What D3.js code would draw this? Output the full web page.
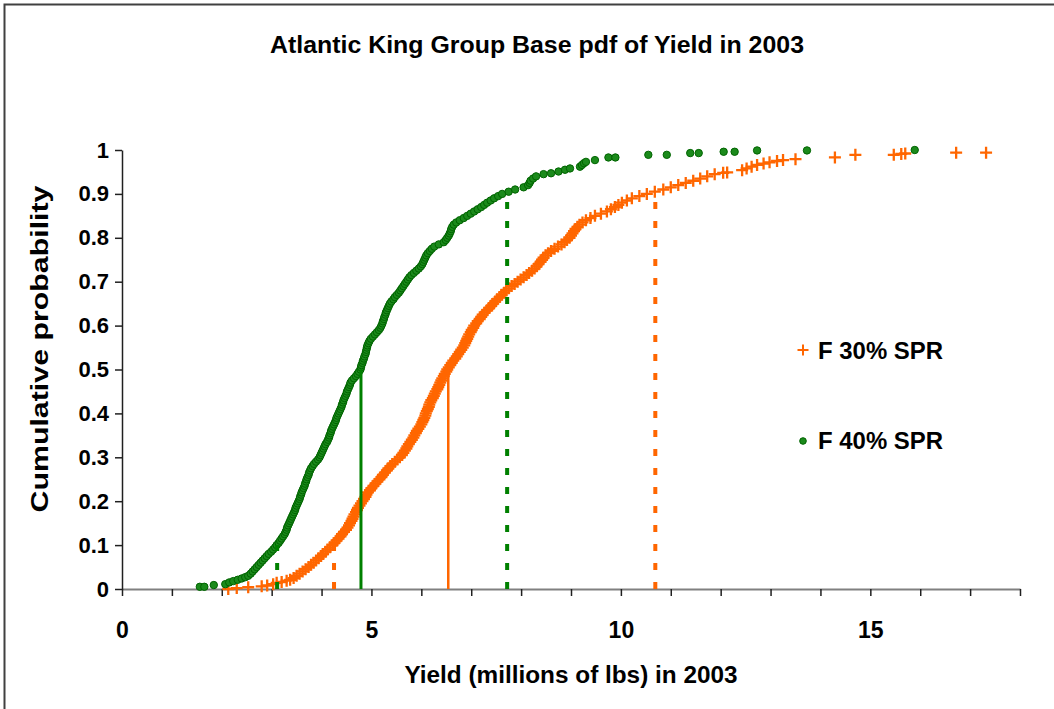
<!DOCTYPE html>
<html>
<head>
<meta charset="utf-8">
<script src="https://cdn.jsdelivr.net/npm/d3@7"></script>
<style>
  body { margin: 0; background: #fff; }
  text { font-family: "Liberation Sans", Arial, sans-serif; font-weight: bold; fill: #000; }
</style>
</head>
<body>
<svg id="chart" width="1054" height="709"></svg>
<script>
// [yield (millions of lbs), cumulative probability]
const f30Points = [
  [2.13, 0.000], [2.30, 0.002], [2.53, 0.004], [2.80, 0.006], [2.91, 0.008], [3.03, 0.011],
  [3.10, 0.014], [3.20, 0.016], [3.30, 0.019], [3.37, 0.021], [3.44, 0.025],
  [3.50, 0.030], [3.56, 0.035], [3.62, 0.040], [3.68, 0.045], [3.74, 0.050], [3.79, 0.055],
  [3.84, 0.060], [3.89, 0.065], [3.94, 0.070], [3.99, 0.075], [4.03, 0.080], [4.08, 0.085],
  [4.12, 0.090], [4.17, 0.095], [4.22, 0.100], [4.26, 0.105], [4.30, 0.110], [4.34, 0.115],
  [4.38, 0.120], [4.41, 0.125], [4.45, 0.130], [4.49, 0.135], [4.52, 0.140], [4.55, 0.145],
  [4.57, 0.150], [4.60, 0.155], [4.62, 0.160], [4.64, 0.165], [4.66, 0.170], [4.69, 0.175],
  [4.71, 0.180], [4.73, 0.185], [4.76, 0.190], [4.79, 0.195], [4.82, 0.200], [4.85, 0.205],
  [4.88, 0.210], [4.90, 0.215], [4.93, 0.220], [4.97, 0.225], [5.00, 0.230], [5.04, 0.235],
  [5.08, 0.240], [5.12, 0.245], [5.16, 0.250], [5.20, 0.255], [5.23, 0.260], [5.27, 0.265],
  [5.31, 0.270], [5.34, 0.275], [5.38, 0.280], [5.42, 0.285], [5.47, 0.290], [5.52, 0.295],
  [5.57, 0.300], [5.61, 0.305], [5.64, 0.310], [5.67, 0.315], [5.70, 0.320], [5.72, 0.325],
  [5.75, 0.330], [5.78, 0.335], [5.81, 0.340], [5.84, 0.345], [5.86, 0.350], [5.89, 0.355],
  [5.91, 0.360], [5.94, 0.365], [5.97, 0.370], [6.00, 0.375], [6.02, 0.380], [6.04, 0.385],
  [6.06, 0.390], [6.08, 0.395], [6.09, 0.400], [6.11, 0.405], [6.13, 0.410], [6.15, 0.415],
  [6.16, 0.420], [6.18, 0.425], [6.20, 0.430], [6.23, 0.435], [6.25, 0.440], [6.27, 0.445],
  [6.29, 0.450], [6.32, 0.455], [6.34, 0.460], [6.36, 0.465], [6.38, 0.470], [6.40, 0.475],
  [6.42, 0.480], [6.45, 0.485], [6.47, 0.490], [6.50, 0.495], [6.52, 0.500], [6.55, 0.505],
  [6.58, 0.510], [6.61, 0.515], [6.64, 0.520], [6.68, 0.525], [6.71, 0.530], [6.74, 0.535],
  [6.77, 0.540], [6.80, 0.545], [6.83, 0.550], [6.86, 0.555], [6.88, 0.560], [6.90, 0.565],
  [6.92, 0.570], [6.94, 0.575], [6.96, 0.580], [6.99, 0.585], [7.01, 0.590], [7.04, 0.595],
  [7.06, 0.600], [7.10, 0.605], [7.13, 0.610], [7.17, 0.615], [7.20, 0.620], [7.23, 0.625],
  [7.27, 0.630], [7.32, 0.635], [7.36, 0.640], [7.40, 0.645], [7.44, 0.650], [7.48, 0.655],
  [7.52, 0.660], [7.57, 0.665], [7.61, 0.670], [7.66, 0.675], [7.70, 0.680], [7.75, 0.685],
  [7.81, 0.690], [7.87, 0.695], [7.93, 0.700], [7.99, 0.705], [8.05, 0.710], [8.11, 0.715],
  [8.16, 0.720], [8.22, 0.725], [8.27, 0.730], [8.31, 0.735], [8.35, 0.740], [8.39, 0.745],
  [8.42, 0.750], [8.45, 0.755], [8.49, 0.760], [8.54, 0.765], [8.60, 0.770], [8.67, 0.775],
  [8.74, 0.780], [8.81, 0.785], [8.87, 0.790], [8.92, 0.795], [8.97, 0.800], [9.00, 0.805],
  [9.03, 0.810], [9.06, 0.815], [9.09, 0.820], [9.13, 0.825], [9.17, 0.830], [9.23, 0.835],
  [9.30, 0.840], [9.39, 0.845], [9.48, 0.850], [9.60, 0.855], [9.72, 0.860], [9.80, 0.865],
  [9.88, 0.870], [9.95, 0.875], [10.02, 0.880], [10.12, 0.885], [10.22, 0.890], [10.37, 0.895],
  [10.52, 0.900], [10.68, 0.905], [10.85, 0.910], [11.00, 0.915], [11.15, 0.920], [11.30, 0.925],
  [11.45, 0.930], [11.59, 0.935], [11.73, 0.940], [11.88, 0.945], [12.05, 0.948], [12.13, 0.949],
  [12.43, 0.954], [12.52, 0.958], [12.62, 0.962], [12.73, 0.966], [12.86, 0.969], [12.98, 0.972],
  [13.13, 0.975], [13.25, 0.977], [13.50, 0.979], [14.29, 0.983], [14.70, 0.989], [15.47, 0.989],
  [15.62, 0.991], [15.70, 0.992], [16.72, 0.994], [17.32, 0.994]
];

const f40Points = [
  [1.56, 0.005], [1.65, 0.005], [1.84, 0.009], [2.07, 0.011], [2.15, 0.015], [2.23, 0.018],
  [2.32, 0.021], [2.40, 0.024], [2.47, 0.027],
  [2.53, 0.030], [2.58, 0.035], [2.62, 0.040], [2.66, 0.045], [2.70, 0.050], [2.74, 0.055],
  [2.78, 0.060], [2.82, 0.065], [2.86, 0.070], [2.90, 0.075], [2.94, 0.080], [2.99, 0.085],
  [3.03, 0.090], [3.07, 0.095], [3.10, 0.100], [3.14, 0.105], [3.17, 0.110], [3.20, 0.115],
  [3.23, 0.120], [3.26, 0.125], [3.28, 0.130], [3.30, 0.135], [3.31, 0.140], [3.33, 0.145],
  [3.35, 0.150], [3.37, 0.155], [3.39, 0.160], [3.41, 0.165], [3.43, 0.170], [3.45, 0.175],
  [3.47, 0.180], [3.48, 0.185], [3.50, 0.190], [3.52, 0.195], [3.54, 0.200], [3.56, 0.205],
  [3.57, 0.210], [3.59, 0.215], [3.60, 0.220], [3.62, 0.225], [3.64, 0.230], [3.66, 0.235],
  [3.67, 0.240], [3.69, 0.245], [3.70, 0.250], [3.72, 0.255], [3.74, 0.260], [3.75, 0.265],
  [3.77, 0.270], [3.79, 0.275], [3.82, 0.280], [3.85, 0.285], [3.89, 0.290], [3.93, 0.295],
  [3.96, 0.300], [3.98, 0.305], [4.00, 0.310], [4.02, 0.315], [4.04, 0.320], [4.06, 0.325],
  [4.08, 0.330], [4.11, 0.335], [4.13, 0.340], [4.15, 0.345], [4.16, 0.350], [4.18, 0.355],
  [4.19, 0.360], [4.21, 0.365], [4.23, 0.370], [4.25, 0.375], [4.27, 0.380], [4.29, 0.385],
  [4.30, 0.390], [4.32, 0.395], [4.34, 0.400], [4.36, 0.405], [4.38, 0.410], [4.40, 0.415],
  [4.41, 0.420], [4.43, 0.425], [4.44, 0.430], [4.46, 0.435], [4.48, 0.440], [4.50, 0.445],
  [4.51, 0.450], [4.53, 0.455], [4.55, 0.460], [4.57, 0.465], [4.58, 0.470], [4.61, 0.475],
  [4.65, 0.480], [4.69, 0.485], [4.72, 0.490], [4.75, 0.495], [4.78, 0.500], [4.79, 0.505],
  [4.80, 0.510], [4.82, 0.515], [4.83, 0.520], [4.85, 0.525], [4.86, 0.530], [4.88, 0.535],
  [4.89, 0.540], [4.90, 0.545], [4.91, 0.550], [4.92, 0.555], [4.94, 0.560], [4.96, 0.565],
  [4.99, 0.570], [5.03, 0.575], [5.07, 0.580], [5.11, 0.585], [5.15, 0.590], [5.18, 0.595],
  [5.20, 0.600], [5.22, 0.605], [5.23, 0.610], [5.25, 0.615], [5.26, 0.620], [5.28, 0.625],
  [5.29, 0.630], [5.31, 0.635], [5.33, 0.640], [5.35, 0.645], [5.37, 0.650], [5.40, 0.655],
  [5.44, 0.660], [5.47, 0.665], [5.51, 0.670], [5.55, 0.675], [5.58, 0.680], [5.61, 0.685],
  [5.64, 0.690], [5.67, 0.695], [5.70, 0.700], [5.73, 0.705], [5.76, 0.710], [5.80, 0.715],
  [5.85, 0.720], [5.90, 0.725], [5.95, 0.730], [5.99, 0.735], [6.02, 0.740], [6.04, 0.745],
  [6.06, 0.750], [6.08, 0.755], [6.10, 0.760], [6.13, 0.765], [6.17, 0.770], [6.21, 0.775],
  [6.26, 0.780], [6.35, 0.785], [6.45, 0.790], [6.49, 0.795], [6.52, 0.800], [6.55, 0.805],
  [6.57, 0.810], [6.59, 0.815], [6.60, 0.820], [6.62, 0.825], [6.65, 0.830], [6.70, 0.835],
  [6.77, 0.840], [6.85, 0.845], [6.92, 0.850], [6.99, 0.855], [7.06, 0.860], [7.13, 0.865],
  [7.20, 0.870], [7.26, 0.875], [7.32, 0.880], [7.39, 0.885], [7.46, 0.890], [7.54, 0.895],
  [7.62, 0.900], [7.75, 0.905], [7.88, 0.910], [8.05, 0.915], [8.14, 0.920], [8.17, 0.925],
  [8.19, 0.930], [8.24, 0.935], [8.30, 0.940], [8.45, 0.945], [8.60, 0.947], [8.75, 0.951],
  [8.88, 0.955], [8.98, 0.958], [9.18, 0.962], [9.22, 0.966], [9.26, 0.970], [9.30, 0.973],
  [9.48, 0.977], [9.75, 0.983], [9.89, 0.983], [10.55, 0.989], [10.92, 0.989], [11.39, 0.993],
  [11.56, 0.993], [12.06, 0.996], [12.28, 0.996], [12.73, 0.999], [13.73, 0.999], [15.89, 1.000]
];

// 10th / 50th / 90th percentile markers
const pctLevels = [0.1, 0.5, 0.9];
const f30Pct = [4.25, 6.54, 10.69];
const f40Pct = [3.11, 4.79, 7.72];

const xTickValues = d3.range(0, 19);
const xLabelled = [0, 5, 10, 15];
const yTickValues = [0, 0.1, 0.2, 0.3, 0.4, 0.5, 0.6, 0.7, 0.8, 0.9, 1];

const seriesNames = ["F 30% SPR", "F 40% SPR"];
const orange = "#ff6600", green = "#008000";

const svg = d3.select("#chart");

// outer frame (only top and left edges show)
svg.append("path")
  .attr("d", "M4.5,709V4.5H1054")
  .attr("fill", "none")
  .attr("stroke", "#404040")
  .attr("stroke-width", 2);

const x = d3.scaleLinear().domain([0, 18]).range([122, 1020]);
const y = d3.scaleLinear().domain([0, 1]).range([589, 150]);

// title
svg.append("text")
  .attr("x", 537).attr("y", 53)
  .attr("text-anchor", "middle")
  .attr("textLength", 534).attr("lengthAdjust", "spacingAndGlyphs")
  .style("font-size", "23px")
  .text("Atlantic King Group Base pdf of Yield in 2003");

// axes
const xAxis = svg.append("g")
  .attr("transform", `translate(0,${y(0)})`)
  .call(d3.axisBottom(x).tickValues(xTickValues).tickSize(7).tickSizeOuter(0)
    .tickPadding(26)
    .tickFormat(d => xLabelled.includes(d) ? d : ""));
xAxis.select(".domain").attr("stroke", "#808080").attr("stroke-width", 2);
xAxis.selectAll(".tick line").attr("stroke", "#202020").attr("stroke-width", 1.5);
xAxis.selectAll("text").style("font-size", "23px").style("font-family", null);

const yAxis = svg.append("g")
  .attr("transform", `translate(${x(0)},0)`)
  .call(d3.axisLeft(y).tickValues(yTickValues).tickSize(7).tickSizeOuter(0)
    .tickPadding(6)
    .tickFormat(d => d === 0 || d === 1 ? d : d3.format(".1f")(d)));
yAxis.select(".domain").attr("stroke", "#202020").attr("stroke-width", 1.5);
yAxis.selectAll(".tick line").attr("stroke", "#202020").attr("stroke-width", 1.5);
yAxis.selectAll("text").style("font-size", "22px").style("font-family", null);

// axis titles
svg.append("text")
  .attr("x", 571).attr("y", 683)
  .attr("text-anchor", "middle")
  .attr("textLength", 333).attr("lengthAdjust", "spacingAndGlyphs")
  .style("font-size", "23px")
  .text("Yield (millions of lbs) in 2003");

svg.append("text")
  .attr("transform", "translate(48,349) rotate(-90)")
  .attr("text-anchor", "middle")
  .attr("textLength", 327).attr("lengthAdjust", "spacingAndGlyphs")
  .style("font-size", "23px")
  .text("Cumulative probability");

// F 30% series: crosses
const crossPath = "M-6,0H6M0,-6V6";
svg.append("g").selectAll("path")
  .data(f30Points)
  .join("path")
  .attr("transform", d => `translate(${x(d[0])},${y(d[1])})`)
  .attr("d", crossPath)
  .attr("stroke", orange)
  .attr("stroke-width", 2.3)
  .attr("fill", "none");

// F 40% series: dots
svg.append("g").selectAll("circle")
  .data(f40Points)
  .join("circle")
  .attr("cx", d => x(d[0]))
  .attr("cy", d => y(d[1]))
  .attr("r", 3.7)
  .attr("fill", "#1b8a1b")
  .attr("stroke", "#006400")
  .attr("stroke-width", 1);

// percentile lines
function pctLines(vals, color, solidWidth) {
  vals.forEach((v, i) => {
    const solid = pctLevels[i] === 0.5;
    svg.append("line")
      .attr("x1", x(v)).attr("x2", x(v))
      .attr("y1", y(0)).attr("y2", y(pctLevels[i]))
      .attr("stroke", color)
      .attr("stroke-width", solid ? solidWidth : 4)
      .attr("stroke-dasharray", solid ? null : "7,12");
  });
}
pctLines(f40Pct, green, 3);
pctLines(f30Pct, orange, 2.5);

// legend
const legend = svg.append("g");
legend.append("path")
  .attr("transform", "translate(803,350)")
  .attr("d", "M-5.5,0H5.5M0,-5.5V5.5")
  .attr("stroke", orange).attr("stroke-width", 2);
legend.append("circle")
  .attr("cx", 803).attr("cy", 441).attr("r", 3.3)
  .attr("fill", "#1b8a1b").attr("stroke", "#006400");
legend.selectAll("text")
  .data(seriesNames)
  .join("text")
  .attr("x", 818)
  .attr("y", (d, i) => 359 + i * 90)
  .attr("textLength", 125).attr("lengthAdjust", "spacingAndGlyphs")
  .style("font-size", "23px")
  .text(d => d);
</script>
</body>
</html>
